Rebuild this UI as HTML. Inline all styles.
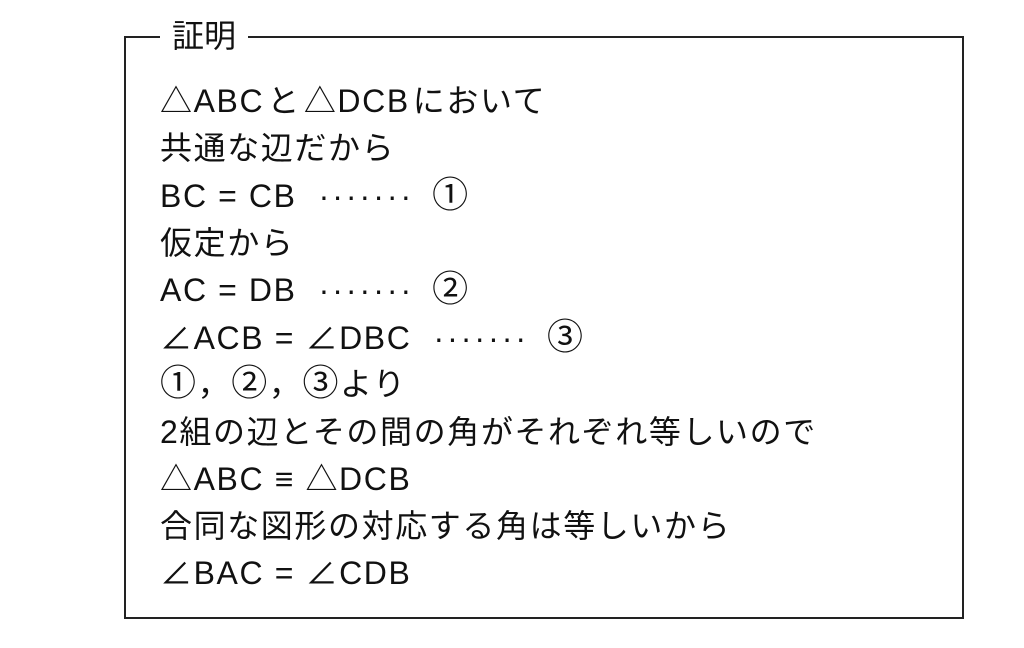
<!DOCTYPE html>
<html><head><meta charset="utf-8"><style>
html,body{margin:0;padding:0;background:#fff;}
body{width:1024px;height:648px;position:relative;overflow:hidden;font-family:"Liberation Sans","Noto Sans CJK JP",sans-serif;color:#111;}
.box{position:absolute;left:124px;top:36px;width:840px;height:583px;border:2px solid #222;box-sizing:border-box;}
.title{position:absolute;left:160px;top:17px;background:#fff;padding:0 12px;font-size:32px;line-height:38px;}
.l{position:absolute;left:160px;font-size:32px;line-height:36px;white-space:nowrap;letter-spacing:1.6px;}
.c{font-size:36px;line-height:30px;}
.d{letter-spacing:3px;margin:0 18px 0 22px;}
.s{margin:0 3px;}
</style></head><body>
<div class="box"></div>
<div class="title">証明</div>
<div class="l" style="top:83px">△ABC<span class="s">と</span>△DCB<span class="s">において</span></div>
<div class="l" style="top:130px">共通な辺だから</div>
<div class="l" style="top:178px">BC = CB<span class="d">·······</span><span class="c">①</span></div>
<div class="l" style="top:225px">仮定から</div>
<div class="l" style="top:272px">AC = DB<span class="d">·······</span><span class="c">②</span></div>
<div class="l" style="top:320px">∠ACB = ∠DBC<span class="d">·······</span><span class="c">③</span></div>
<div class="l" style="top:366px"><span class="c">①</span>，<span class="c">②</span>，<span class="c">③</span>より</div>
<div class="l" style="top:414px">2組の辺とその間の角がそれぞれ等しいので</div>
<div class="l" style="top:461px">△ABC ≡ △DCB</div>
<div class="l" style="top:508px">合同な図形の対応する角は等しいから</div>
<div class="l" style="top:555px">∠BAC = ∠CDB</div>
</body></html>
